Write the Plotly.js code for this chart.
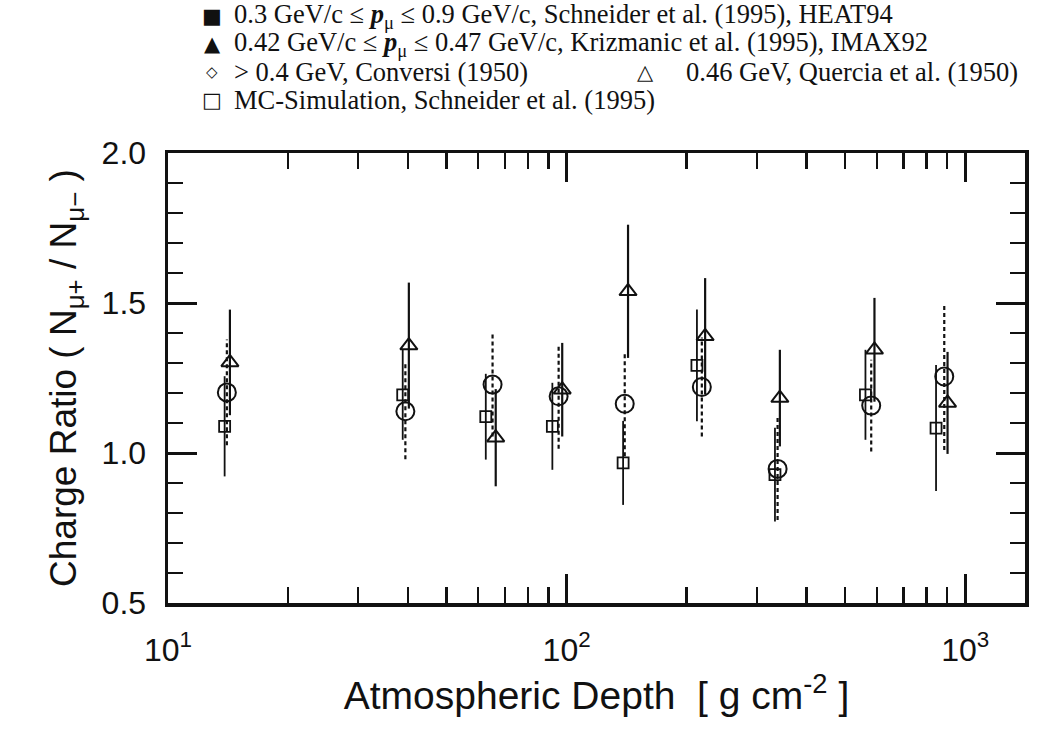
<!DOCTYPE html>
<html>
<head>
<meta charset="utf-8">
<script src="https://cdn.plot.ly/plotly-3.0.1.min.js"></script>
<style>html,body{margin:0;padding:0;background:#fff}#chart{width:1042px;height:732px}</style>
</head>
<body>
<div id="chart"></div>
<script>
// Quercia et al. (1950) - open triangles
const depthTri = [14.3, 40.2, 66.4, 97.5, 142.6, 222.6, 342.8, 592, 903];
const ratioTri = [1.302, 1.358, 1.051, 1.211, 1.539, 1.389, 1.183, 1.344, 1.167];
const errTri   = [0.176, 0.21, 0.162, 0.156, 0.222, 0.194, 0.161, 0.173, 0.17];
// Conversi (1950) - open circles
const depthCirc = [14.05, 39.4, 65.2, 95.5, 139.9, 218.4, 338.3, 581, 886];
const ratioCirc = [1.202, 1.139, 1.228, 1.189, 1.164, 1.220, 0.947, 1.158, 1.255];
const errCirc   = [0.176, 0.16, 0.173, 0.175, 0.175, 0.165, 0.17, 0.153, 0.245];
// MC-Simulation, Schneider et al. (1995) - open squares
const depthSq = [13.87, 38.8, 62.7, 92.1, 138.6, 212.3, 333.2, 562, 845];
const ratioSq = [1.089, 1.194, 1.121, 1.089, 0.967, 1.292, 0.928, 1.194, 1.083];
const errSq   = [0.167, 0.15, 0.143, 0.145, 0.14, 0.186, 0.156, 0.15, 0.21];

const xTickVals = [10, 100, 1000];
const xTickText = ['10<sup>1</sup>', '10<sup>2</sup>', '10<sup>3</sup>'];
const yTickVals = [0.5, 1.0, 1.5, 2.0];
const yTickText = ['0.5', '1.0', '1.5', '2.0'];

const legendSymbols = ['■', '▲', '◇', '△', '□'];
const legendLabels = [
  '0.3 GeV/c ≤ <b><i>p</i></b><sub>μ</sub> ≤ 0.9 GeV/c, Schneider et al. (1995), HEAT94',
  '0.42 GeV/c ≤ <b><i>p</i></b><sub>μ</sub> ≤ 0.47 GeV/c, Krizmanic et al. (1995), IMAX92',
  '&gt; 0.4 GeV, Conversi (1950)',
  '0.46 GeV, Quercia et al. (1950)',
  'MC-Simulation, Schneider et al. (1995)'
];
const xTitle = 'Atmospheric Depth  [ g cm<sup>-2</sup> ]';
const yTitle = 'Charge Ratio ( N<sub>μ+</sub> / N<sub>μ−</sub> )';

// dashed error bars for Conversi built from the data arrays
const dashX = [], dashY = [];
depthCirc.forEach((d, i) => {
  dashX.push(d, d, null);
  dashY.push(ratioCirc[i] - errCirc[i], ratioCirc[i] + errCirc[i], null);
});

const traces = [
  {x: dashX, y: dashY, mode: 'lines', line: {color: '#111', width: 2.2, dash: '4px,3px'}, hoverinfo: 'skip', showlegend: false},
  {x: depthSq, y: ratioSq, mode: 'markers', showlegend: false,
   error_y: {type: 'data', array: errSq, visible: true, color: '#111', thickness: 1.8, width: 0},
   marker: {symbol: 'square-open', size: 11, color: '#111', line: {width: 1.8, color: '#111'}}},
  {x: depthTri, y: ratioTri, mode: 'markers', showlegend: false,
   error_y: {type: 'data', array: errTri, visible: true, color: '#111', thickness: 2.2, width: 0},
   marker: {symbol: 'triangle-up-open', size: 15, color: '#111', line: {width: 2, color: '#111'}}},
  {x: depthCirc, y: ratioCirc, mode: 'markers', showlegend: false,
   marker: {symbol: 'circle-open', size: 18, color: '#111', line: {width: 2, color: '#111'}}}
];

const L = 168, R = 1025, T = 153, B = 603, W = 1042, H = 732;
const px = x => (x - L) / (R - L);
const py = y => (B - y) / (B - T);

const serif = 'Liberation Serif, Times New Roman, serif';
const annotations = [];
const legRows = [
  {sym: 0, lab: 0, y: 16, sx: 212, tx: 232},
  {sym: 1, lab: 1, y: 44, sx: 212, tx: 232},
  {sym: 2, lab: 2, y: 72, sx: 212, tx: 232},
  {sym: 3, lab: 3, y: 72, sx: 645, tx: 684},
  {sym: 4, lab: 4, y: 100, sx: 212, tx: 232}
];
legRows.forEach(r => {
  annotations.push({xref: 'paper', yref: 'paper', x: px(r.sx), y: py(r.y), xanchor: 'center', yanchor: 'middle',
    text: legendSymbols[r.sym], showarrow: false,
    font: {family: 'DejaVu Sans', size: (r.sym === 2 ? 15 : 21), color: '#111'}});
  annotations.push({xref: 'paper', yref: 'paper', x: px(r.tx), y: py(r.y), xanchor: 'left', yanchor: 'middle',
    text: legendLabels[r.lab], showarrow: false,
    font: {family: serif, size: 26.5, color: '#111'}});
});

const sans = 'Liberation Sans, Arial, sans-serif';
const axisCommon = {
  showline: true, linewidth: 3.5, linecolor: '#111', mirror: 'allticks',
  ticks: 'inside', tickwidth: 3, tickcolor: '#111', ticklen: 29,
  showgrid: false, zeroline: false,
  tickfont: {family: sans, size: 32, color: '#111'}
};

const layout = {
  width: W, height: H,
  margin: {l: L, r: W - R, t: T, b: H - B},
  paper_bgcolor: '#fff', plot_bgcolor: '#fff',
  showlegend: false,
  xaxis: Object.assign({}, axisCommon, {
    type: 'log', range: [1, 3.15],
    tickmode: 'array', tickvals: xTickVals, ticktext: xTickText,
    ticklabelstandoff: 16,
    minor: {ticks: 'inside', ticklen: 16, tickwidth: 2.5, tickcolor: '#111', dtick: 'D1', showgrid: false},
    title: {text: xTitle, standoff: 16, font: {family: sans, size: 39, color: '#111'}}
  }),
  yaxis: Object.assign({}, axisCommon, {
    range: [0.5, 2.0],
    tickmode: 'array', tickvals: yTickVals, ticktext: yTickText,
    ticklabelstandoff: 12,
    minor: {ticks: 'inside', ticklen: 15, tickwidth: 2.5, tickcolor: '#111', dtick: 0.1, showgrid: false},
    title: {text: yTitle, standoff: 14, font: {family: sans, size: 37, color: '#111'}}
  }),
  annotations: annotations
};

Plotly.newPlot('chart', traces, layout, {displayModeBar: false, staticPlot: true});
</script>
</body>
</html>
